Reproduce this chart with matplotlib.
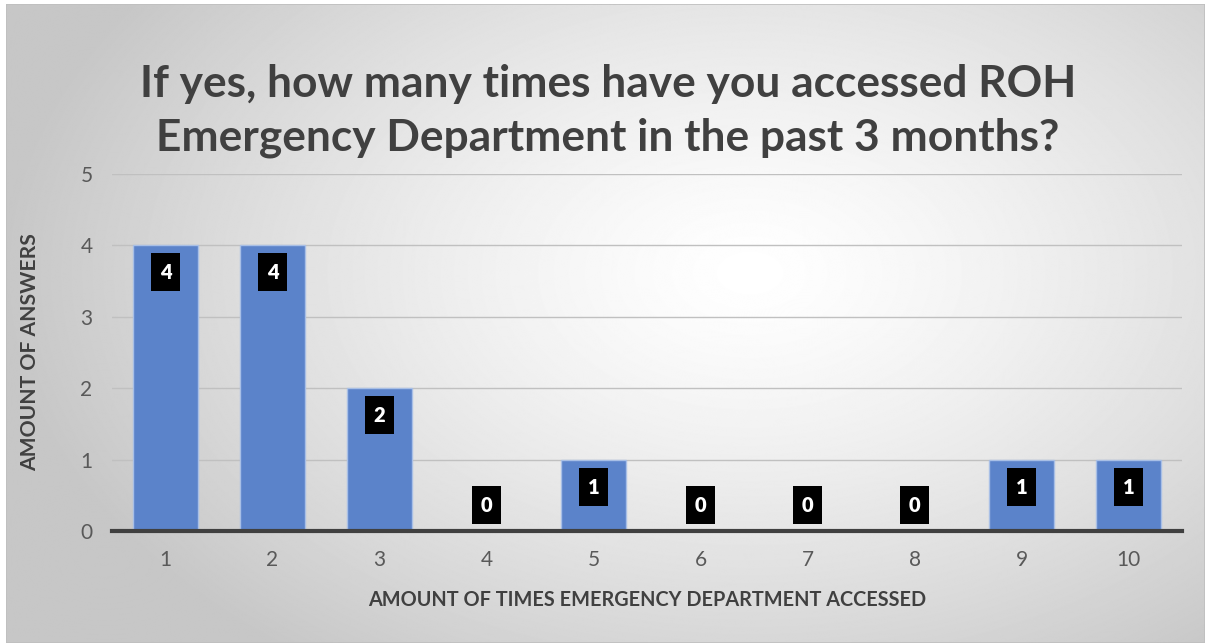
import numpy as np
import matplotlib
matplotlib.use("Agg")
import matplotlib.pyplot as plt
from matplotlib.patches import Rectangle
from matplotlib.transforms import Affine2D, ScaledTranslation

categories = ["1", "2", "3", "4", "5", "6", "7", "8", "9", "10"]
values = [4, 4, 2, 0, 1, 0, 0, 0, 1, 1]
yticks = [0, 1, 2, 3, 4, 5]
title = "If yes, how many times have you accessed ROH\nEmergency Department in the past 3 months?"
xlabel = "AMOUNT OF TIMES EMERGENCY DEPARTMENT ACCESSED"
ylabel = "AMOUNT OF ANSWERS"

W, H = 1205, 643
fig = plt.figure(figsize=(W / 100, H / 100), dpi=100)
fig.patch.set_facecolor("white")

# background radial gradient panel
bg = fig.add_axes([6 / W, 0, 1 - 6 / W, 1 - 4 / H])
bg.set_axis_off()
yy, xx = np.mgrid[0:H, 0:W]
cx, cy = 0.62 * W, 0.42 * H
d = np.sqrt(((xx - cx) / (0.62 * W)) ** 2 + ((yy - cy) / (0.75 * H)) ** 2)
d = np.clip(d, 0, 1)
lo, hi = 0.78, 1.0
img = hi - (hi - lo) * d ** 1.3
bg.imshow(img, cmap="gray", vmin=0, vmax=1, aspect="auto", extent=[0, 1, 0, 1], origin="upper")
bg.add_patch(Rectangle((0, 0), 1, 1, transform=bg.transAxes, fill=False, edgecolor="#BFBFBF", linewidth=1.2))
bg.set_xlim(0, 1); bg.set_ylim(0, 1)

ax = fig.add_axes([112 / W, 112 / H, 1070 / W, 357 / H])
ax.patch.set_alpha(0)
x = np.arange(1, len(categories) + 1)
ax.bar(x, values, width=0.6, color="#5B83CA", edgecolor="#A8BFE6", linewidth=1, zorder=3)
ax.set_xlim(0.5, len(categories) + 0.5)
ax.set_ylim(0, 5)
ax.set_yticks(yticks)
ax.set_xticks(x)
ax.set_xticklabels(categories)
for s in ["top", "right", "left"]:
    ax.spines[s].set_visible(False)
ax.spines["bottom"].set_color("#404040")
ax.spines["bottom"].set_linewidth(3)
ax.spines["bottom"].set_zorder(4)
ax.grid(axis="y", color="#C0C0C0", linewidth=1, zorder=0)
ax.tick_params(axis="both", length=0, labelsize=15, labelcolor="#595959")
ax.tick_params(axis="x", pad=14)
ax.tick_params(axis="y", pad=14)
for lab in ax.get_xticklabels() + ax.get_yticklabels():
    lab.set_fontfamily("Lato")

# data labels: black boxes with white bold numbers
for xi, v in zip(x, values):
    off = -27 if v > 0 else 26
    base = ScaledTranslation(xi, v, ax.transData)
    tr = Affine2D().translate(0, off) + base
    ax.add_patch(Rectangle((-14.5, -19), 29, 38, transform=tr, facecolor="black",
                           edgecolor="none", zorder=5, clip_on=False))
    ax.text(0, -0.5, str(v), transform=tr, ha="center", va="center", color="white",
            fontsize=14.5, fontweight="heavy", fontfamily="Lato", zorder=6)

fig.text(647 / W, 1 - 600 / H, xlabel, ha="center", va="center", fontsize=14.3,
         fontweight="bold", color="#404040", fontfamily="Lato")
fig.text(30 / W, 1 - 352 / H, ylabel, ha="center", va="center", rotation=90, fontsize=15.2,
         fontweight="bold", color="#404040", fontfamily="Lato")

fig.text(608 / W, 1 - 111 / H, title, ha="center", va="center", fontsize=31.9, fontweight="bold",
         color="#404040", fontfamily="Lato", linespacing=1.41)

fig.savefig("out.png", dpi=100)
